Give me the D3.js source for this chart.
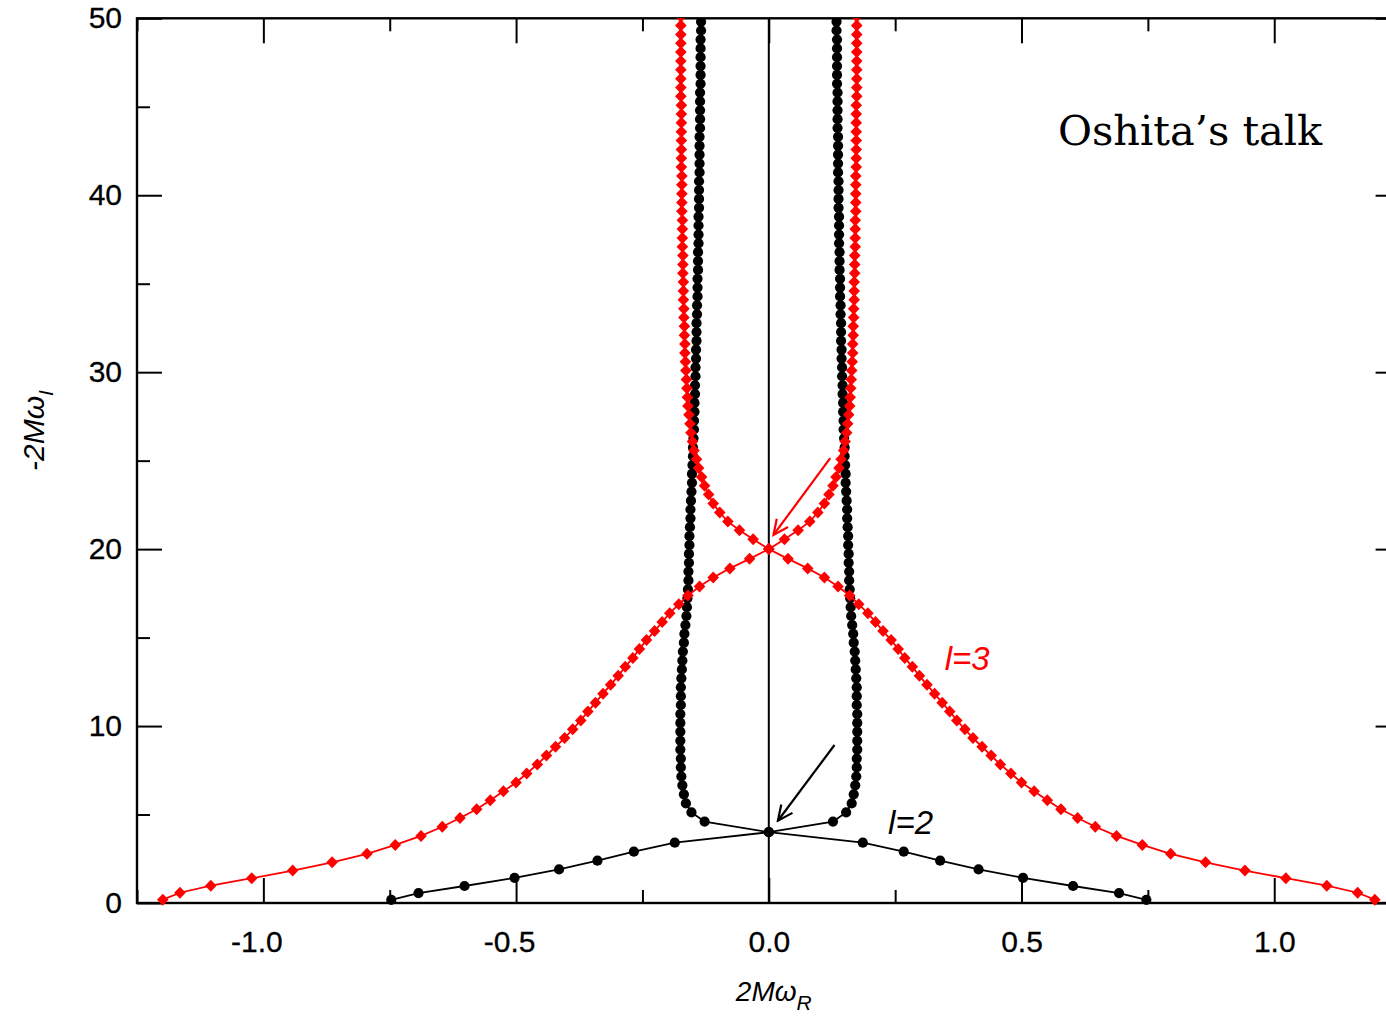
<!DOCTYPE html>
<html>
<head>
<meta charset="utf-8">
<script src="https://cdn.jsdelivr.net/npm/d3@7"></script>
<style>
  body { margin: 0; background: #fff; }
  svg { display: block; background: #fff; }
  .axis text { font-family: "Liberation Sans", Arial, sans-serif; font-size: 30px; fill: #000; stroke: #000; stroke-width: 0.3; }
  .axis line { stroke: #000; stroke-width: 2; }
  .axis path { display: none; }
</style>
</head>
<body>
<div id="chart"></div>
<script>

/*****************
***** DATA *****
*****************/

// quasinormal modes, positive-real branch: [2M*omega_R, -2M*omega_I]
// l=2 (black circles)
const l2Modes = [
  [0.747, 0.18], [0.693, 0.56], [0.602, 0.96], [0.503, 1.42], [0.415, 1.90],
  [0.339, 2.39], [0.267, 2.90], [0.186, 3.41], [0.000, 4.00], [0.127, 4.60],
  [0.153, 5.12], [0.164, 5.63], [0.168, 6.14], [0.171, 6.65], [0.173, 7.15],
  [0.174, 7.66], [0.174, 8.16], [0.175, 8.67], [0.175, 9.17], [0.175, 9.68],
  [0.175, 10.18], [0.175, 10.68], [0.174, 11.19], [0.174, 11.69], [0.174, 12.19],
  [0.173, 12.70], [0.172, 13.20], [0.171, 13.70], [0.170, 14.21], [0.168, 14.71],
  [0.167, 15.21], [0.165, 15.71], [0.163, 16.22], [0.162, 16.72], [0.161, 17.22],
  [0.160, 17.72], [0.159, 18.23], [0.159, 18.73], [0.158, 19.23], [0.158, 19.73],
  [0.157, 20.23], [0.157, 20.74], [0.156, 21.24], [0.155, 21.74], [0.155, 22.24],
  [0.154, 22.74], [0.153, 23.25], [0.152, 23.75], [0.152, 24.25], [0.151, 24.75],
  [0.150, 25.25], [0.150, 25.75], [0.149, 26.26], [0.148, 26.76], [0.148, 27.26],
  [0.147, 27.76], [0.147, 28.26], [0.146, 28.76], [0.146, 29.26], [0.145, 29.77],
  [0.145, 30.27], [0.144, 30.77], [0.144, 31.27], [0.143, 31.77], [0.143, 32.27],
  [0.143, 32.77], [0.142, 33.27], [0.142, 33.78], [0.141, 34.28], [0.141, 34.78],
  [0.141, 35.28], [0.140, 35.78], [0.140, 36.28], [0.140, 36.78], [0.139, 37.28],
  [0.139, 37.78], [0.139, 38.29], [0.139, 38.79], [0.138, 39.29], [0.138, 39.79],
  [0.138, 40.29], [0.138, 40.79], [0.137, 41.29], [0.137, 41.79], [0.137, 42.29],
  [0.137, 42.79], [0.137, 43.30], [0.136, 43.80], [0.136, 44.30], [0.136, 44.80],
  [0.136, 45.30], [0.136, 45.80], [0.135, 46.30], [0.135, 46.80], [0.135, 47.30],
  [0.135, 47.80], [0.135, 48.30], [0.135, 48.80], [0.134, 49.31], [0.134, 49.81],
  [0.134, 50.31]
];

// l=3 (red diamonds)
const l3Modes = [
  [1.199, 0.19], [1.165, 0.58], [1.104, 0.98], [1.023, 1.40], [0.942, 1.83],
  [0.864, 2.30], [0.795, 2.78], [0.739, 3.28], [0.688, 3.79], [0.646, 4.31],
  [0.611, 4.80], [0.578, 5.30], [0.551, 5.81], [0.525, 6.31], [0.500, 6.81],
  [0.479, 7.32], [0.458, 7.83], [0.440, 8.33], [0.422, 8.83], [0.404, 9.32],
  [0.388, 9.82], [0.372, 10.32], [0.358, 10.82], [0.343, 11.32], [0.328, 11.83],
  [0.313, 12.33], [0.298, 12.84], [0.284, 13.35], [0.269, 13.85], [0.256, 14.35],
  [0.242, 14.86], [0.226, 15.37], [0.211, 15.88], [0.196, 16.38], [0.178, 16.88],
  [0.160, 17.38], [0.137, 17.89], [0.110, 18.40], [0.077, 18.91], [0.038, 19.45],
  [0.000, 20.00], [0.031, 20.56], [0.058, 21.06], [0.081, 21.56], [0.097, 22.07],
  [0.110, 22.58], [0.119, 23.08], [0.127, 23.58], [0.133, 24.08], [0.139, 24.58],
  [0.143, 25.08], [0.148, 25.58], [0.151, 26.08], [0.154, 26.58], [0.156, 27.09],
  [0.158, 27.59], [0.160, 28.09], [0.161, 28.59], [0.162, 29.09], [0.163, 29.59],
  [0.164, 30.09], [0.165, 30.59], [0.166, 31.09], [0.166, 31.59], [0.167, 32.09],
  [0.167, 32.59], [0.168, 33.09], [0.168, 33.59], [0.169, 34.09], [0.169, 34.59],
  [0.169, 35.09], [0.170, 35.59], [0.170, 36.09], [0.170, 36.59], [0.171, 37.09],
  [0.171, 37.59], [0.171, 38.09], [0.171, 38.59], [0.172, 39.09], [0.172, 39.59],
  [0.172, 40.09], [0.172, 40.59], [0.172, 41.09], [0.173, 41.59], [0.173, 42.09],
  [0.173, 42.59], [0.173, 43.09], [0.173, 43.59], [0.173, 44.09], [0.173, 44.59],
  [0.173, 45.09], [0.174, 45.59], [0.174, 46.09], [0.174, 46.59], [0.174, 47.09],
  [0.174, 47.59], [0.174, 48.09], [0.174, 48.59], [0.174, 49.09], [0.174, 49.59],
  [0.174, 50.09]
];

// ticks
const xMajorTicks = [-1.0, -0.5, 0.0, 0.5, 1.0];
const xMinorTicks = [-1.25, -0.75, -0.25, 0.25, 0.75, 1.25];
const yMajorTicks = [0, 10, 20, 30, 40, 50];
const yMinorTicks = [5, 15, 25, 35, 45];

// annotations (data units)
const arrows = [
  {from: [0.130, 8.93], to: [0.018, 4.65], color: "#000"},
  {from: [0.1215, 25.14], to: [0.0093, 20.8], color: "#ff0000"}
];
const modeLabels = [
  {text: "l=2", at: [0.236, 3.9], color: "#000"},
  {text: "l=3", at: [0.348, 13.17], color: "#ff0000"}
];

/*************************
***** SET DIMENSIONS *****
*************************/

const width = 1386;
const height = 1019;
const margin = {top: 18.3, left: 137, right: -14.6, bottom: 116};

const x = d3.scaleLinear()
    .domain([-1.25, 1.25])
    .range([margin.left, width - margin.right]);

const y = d3.scaleLinear()
    .domain([0, 50])
    .range([height - margin.bottom, margin.top]);

const svg = d3.select("#chart")
    .append("svg")
    .attr("width", width)
    .attr("height", height);

const defs = svg.append("defs");

defs.append("clipPath")
    .attr("id", "plotClip")
    .append("rect")
    .attr("x", x(-1.25))
    .attr("y", y(50))
    .attr("width", x(1.25) - x(-1.25))
    .attr("height", y(0) - y(50) + 30);

arrows.forEach((a, i) => {
    defs.append("marker")
        .attr("id", "head" + i)
        .attr("viewBox", "-18 -9 20 18")
        .attr("refX", 0)
        .attr("refY", 0)
        .attr("markerUnits", "userSpaceOnUse")
        .attr("markerWidth", 20)
        .attr("markerHeight", 18)
        .attr("orient", "auto")
        .append("path")
        .attr("d", "M-15,-7L0,0L-15,7")
        .attr("fill", "none")
        .attr("stroke", a.color)
        .attr("stroke-width", 2.2);
});

/*******************
***** AXES *****
*******************/

const fmt = d => d.toFixed(1);

// bottom
svg.append("g")
    .attr("class", "axis")
    .attr("transform", `translate(0,${y(0)})`)
    .call(d3.axisBottom(x).tickValues(xMajorTicks).tickSize(-25).tickPadding(28).tickFormat(fmt))
    .selectAll("text")
    .attr("dx", d => d < 0 ? -7 : 0);

svg.append("g")
    .attr("class", "axis")
    .attr("transform", `translate(0,${y(0)})`)
    .call(d3.axisBottom(x).tickValues(xMinorTicks).tickSize(-13).tickFormat(""));

// top
svg.append("g")
    .attr("class", "axis")
    .attr("transform", `translate(0,${y(50)})`)
    .call(d3.axisTop(x).tickValues(xMajorTicks).tickSize(-25).tickFormat(""));

svg.append("g")
    .attr("class", "axis")
    .attr("transform", `translate(0,${y(50)})`)
    .call(d3.axisTop(x).tickValues(xMinorTicks).tickSize(-13).tickFormat(""));

// left
svg.append("g")
    .attr("class", "axis")
    .attr("transform", `translate(${x(-1.25)},0)`)
    .call(d3.axisLeft(y).tickValues(yMajorTicks).tickSize(-25).tickPadding(15));

svg.append("g")
    .attr("class", "axis")
    .attr("transform", `translate(${x(-1.25)},0)`)
    .call(d3.axisLeft(y).tickValues(yMinorTicks).tickSize(-13).tickFormat(""));

// right
svg.append("g")
    .attr("class", "axis")
    .attr("transform", `translate(${x(1.25)},0)`)
    .call(d3.axisRight(y).tickValues(yMajorTicks).tickSize(-25).tickFormat(""));

svg.append("g")
    .attr("class", "axis")
    .attr("transform", `translate(${x(1.25)},0)`)
    .call(d3.axisRight(y).tickValues(yMinorTicks).tickSize(-13).tickFormat(""));

// frame
svg.append("rect")
    .attr("x", x(-1.25))
    .attr("y", y(50))
    .attr("width", x(1.25) - x(-1.25))
    .attr("height", y(0) - y(50))
    .attr("fill", "none")
    .attr("stroke", "#000")
    .attr("stroke-width", 2.4);

// zero line
svg.append("line")
    .attr("x1", x(0)).attr("x2", x(0))
    .attr("y1", y(0)).attr("y2", y(50))
    .attr("stroke", "#000")
    .attr("stroke-width", 2);

/*****************************
***** AXIS LABELS *****
*****************************/

const xLabel = svg.append("text")
    .attr("x", x(0) + 5)
    .attr("y", 1001)
    .attr("text-anchor", "middle")
    .style("font-family", "'Liberation Sans', Arial, sans-serif")
    .style("font-style", "italic")
    .style("font-size", "28px");
xLabel.append("tspan").text("2Mω");
xLabel.append("tspan").attr("dy", 9).style("font-size", "21px").text("R");

const yLabel = svg.append("text")
    .attr("transform", `translate(44,${y(26.7)}) rotate(-90)`)
    .attr("text-anchor", "middle")
    .style("font-family", "'Liberation Sans', Arial, sans-serif")
    .style("font-style", "italic")
    .style("font-size", "30px");
yLabel.append("tspan").text("-2Mω");
yLabel.append("tspan").attr("dy", 9).style("font-size", "21px").text("I");

/*************************
***** PLOT *****
**************************/

const plot = svg.append("g")
    .attr("id", "plot")
    .attr("clip-path", "url(#plotClip)");

const line = d3.line()
    .x(d => x(d[0]))
    .y(d => y(d[1]));

const mirror = arr => arr.map(d => [-d[0], d[1]]);

// l=2 series, both branches
[l2Modes, mirror(l2Modes)].forEach(branch => {
    plot.append("path")
        .datum(branch)
        .attr("d", line)
        .attr("fill", "none")
        .attr("stroke", "#000")
        .attr("stroke-width", 1.8);
    plot.append("g")
        .selectAll("circle")
        .data(branch)
        .enter()
        .append("circle")
        .attr("cx", d => x(d[0]))
        .attr("cy", d => y(d[1]))
        .attr("r", 5.1)
        .attr("fill", "#000");
});

// l=3 series, both branches
const diamond = "M0,-6L5.8,0L0,6L-5.8,0Z";
[l3Modes, mirror(l3Modes)].forEach(branch => {
    plot.append("path")
        .datum(branch)
        .attr("d", line)
        .attr("fill", "none")
        .attr("stroke", "#ff0000")
        .attr("stroke-width", 1.8);
    plot.append("g")
        .selectAll("path")
        .data(branch)
        .enter()
        .append("path")
        .attr("d", diamond)
        .attr("transform", d => `translate(${x(d[0])},${y(d[1])})`)
        .attr("fill", "#ff0000");
});

/*************************
***** ANNOTATIONS *****
**************************/

arrows.forEach((a, i) => {
    svg.append("line")
        .attr("x1", x(a.from[0])).attr("y1", y(a.from[1]))
        .attr("x2", x(a.to[0])).attr("y2", y(a.to[1]))
        .attr("stroke", a.color)
        .attr("stroke-width", 2.2)
        .attr("marker-end", `url(#head${i})`);
});

svg.selectAll(".modeLabel")
    .data(modeLabels)
    .enter()
    .append("text")
    .attr("class", "modeLabel")
    .attr("x", d => x(d.at[0]))
    .attr("y", d => y(d.at[1]))
    .attr("fill", d => d.color)
    .style("font-family", "'Liberation Sans', Arial, sans-serif")
    .style("font-style", "italic")
    .style("font-size", "33px")
    .text(d => d.text);

svg.append("text")
    .attr("x", 1058)
    .attr("y", 145)
    .style("font-family", "'DejaVu Serif', serif")
    .style("font-size", "41.5px")
    .attr("fill", "#000")
    .text("Oshita’s talk");

</script>
</body>
</html>
